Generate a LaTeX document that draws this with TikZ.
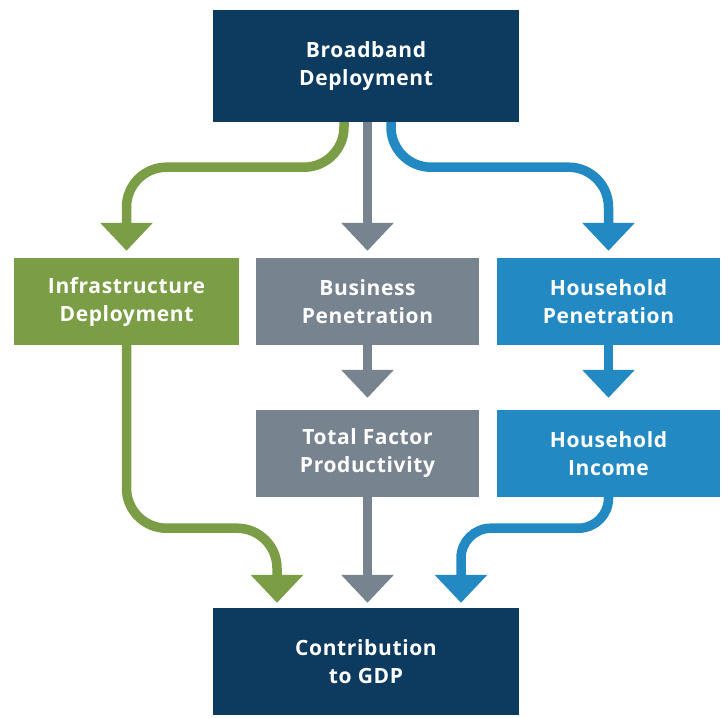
\documentclass[tikz,border=0pt]{standalone}
\usepackage{fontspec}
\setmainfont{Open Sans}[LetterSpace=3]
\usepackage{tikz}
\usetikzlibrary{arrows.meta}

\definecolor{navy}{HTML}{0D3A5F}
\definecolor{leaf}{HTML}{7A9D45}
\definecolor{slate}{HTML}{77838F}
\definecolor{sky}{HTML}{2389C3}

\tikzset{
  box/.style={fill=#1, text=white, align=center, inner sep=0pt,
    minimum width=223pt, minimum height=87pt,
    font=\fontsize{21}{28}\selectfont\bfseries},
  bigbox/.style={box=navy, minimum width=306pt},
  flow/.style={draw=#1, line width=9.5pt, rounded corners=40pt,
    -{Triangle[width=51pt,length=28pt]}}
}

\begin{document}
\begin{tikzpicture}[x=1pt,y=-1pt]
    \useasboundingbox (0,0) rectangle (725,717);

    % draw boxes
    \node[bigbox, minimum height=112pt] (deploy) at (366,66) {Broadband\\Deployment};
    \node[box=leaf, minimum width=225pt] (infra) at (126.5,301.5) {Infrastructure\\Deployment};
    \node[box=slate] (business) at (367.5,301.5) {Business\\Penetration};
    \node[box=sky] (hhpen) at (608.5,301.5) {Household\\Penetration};
    \node[box=slate] (tfp) at (367.5,453.5) {Total Factor\\Productivity};
    \node[box=sky] (hhincome) at (608.5,453.5) {Household\\Income};
    \node[bigbox, minimum height=107pt] (gdp) at (366,661.5) {Contribution\\to GDP};

    % draw arrows from the top
    \draw[flow=leaf] ([xshift=-22pt]deploy.south) -- ++(0,45) -| ([yshift=7pt]infra.north);
    \draw[flow=slate] (deploy.south -| business.north) -- ([yshift=7pt]business.north);
    \draw[flow=sky] ([xshift=25pt]deploy.south) -- ++(0,45) -| ([yshift=7pt]hhpen.north);

    % draw arrows in the middle
    \draw[flow=slate] (business.south) -- ([yshift=12pt]tfp.north);
    \draw[flow=sky] (hhpen.south) -- ([yshift=12pt]hhincome.north);

    % draw arrows to the bottom
    \draw[flow=leaf] (infra.south) -- ++(0,183) -| ([xshift=-89pt,yshift=5pt]gdp.north);
    \draw[flow=slate] (tfp.south) -- ([yshift=5pt]gdp.north -| tfp.south);
    \draw[flow=sky, rounded corners=30pt] (hhincome.south) -- ++(0,31) -| ([xshift=95pt,yshift=5pt]gdp.north);

\end{tikzpicture}
\end{document}
